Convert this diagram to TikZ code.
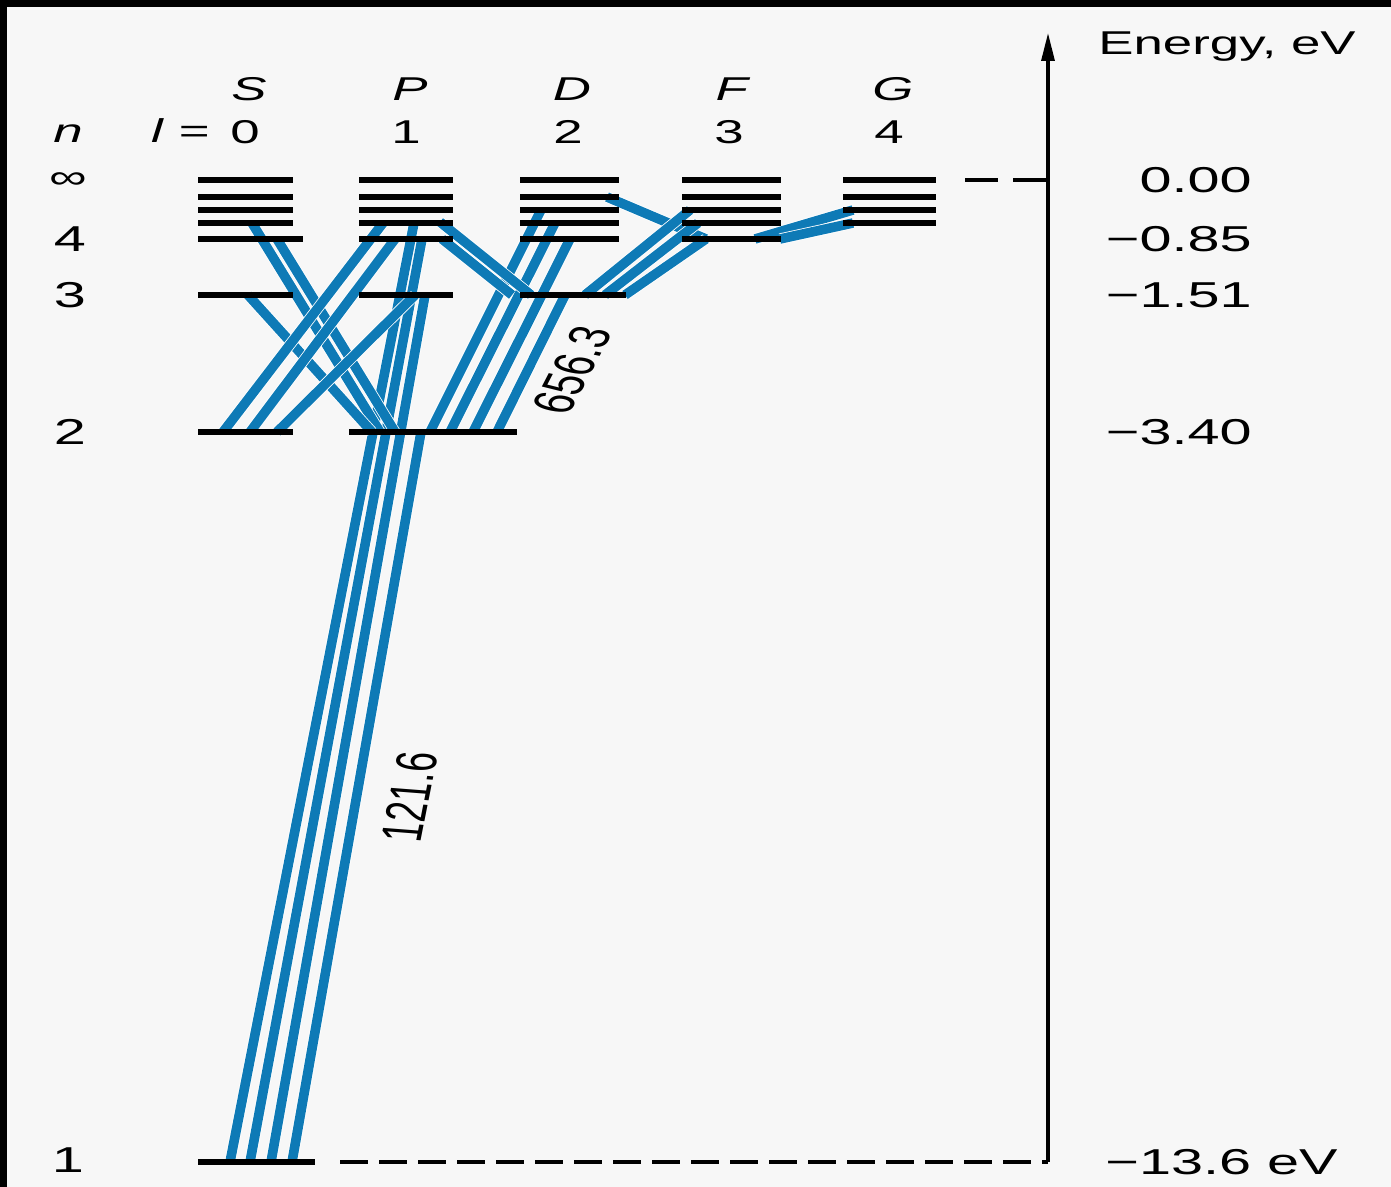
\documentclass[tikz,border=0pt]{standalone}
\usepackage{fontspec}
\setmainfont{Liberation Sans}[FakeStretch=1.6]
\newfontfamily\plainsans{Liberation Sans}
\usetikzlibrary{arrows.meta}
\definecolor{bg}{RGB}{247,247,247}
\definecolor{trblue}{RGB}{14,122,182}
\tikzset{
  lvl/.style={line width=2.9pt, black},
  trans/.style={line width=4.8pt, trblue, preaction={draw=white, line width=5.6pt}},
  bigtxt/.style={font=\fontsize{18}{20}\selectfont, inner sep=0pt},
  smalltxt/.style={font=\fontsize{16.5}{18}\selectfont, inner sep=0pt},
  rottxt/.style={font=\plainsans\fontsize{18}{20}\selectfont, inner sep=0pt},
}
\begin{document}
\begin{tikzpicture}[x=0.5pt,y=-0.5pt]
\useasboundingbox (0,0) rectangle (1391,1187);
\fill[bg] (0,0) rectangle (1391,1187);
\fill[black] (0,0) rectangle (1391,7);
\fill[black] (0,0) rectangle (7,1187);

% transitions
\foreach \xa/\ya/\xb/\yb in {
  230/1162/414/223, 250/1162/422/239, 271/1162/425/295, 292/1162/421/432,
  252/223/380/432, 277/239/395/432, 248/295/372/432,
  383/223/223/432, 395/239/250/432, 415/295/277/432,
  541/210/430/432, 555/223/450/432, 570/239/473/432, 565/295/497/432,
  440/222/531/295, 442/239/512/295,
  607/197/706/239,
  690/210/585/295, 698/223/605/295, 706/239/625/295,
  853/210/755/239, 853/223/780/239}
  \draw[trans] (\xa,\ya) coordinate (ta) -- (\xb,\yb) coordinate (tb);

% levels
\foreach \y in {180,197,210,223}{
  \foreach \a/\b in {198/293,359/453,520/619,682/781,843/936}
    \draw[lvl] (\a,\y) -- (\b,\y);
}
\foreach \a/\b in {198/303,359/453,520/619,682/781}
  \draw[lvl] (\a,239) -- (\b,239);
\foreach \a/\b in {198/293,359/453,520/626}
  \draw[lvl] (\a,295) -- (\b,295);
\foreach \a/\b in {198/293,349/517}
  \draw[lvl] (\a,432) -- (\b,432);
\draw[lvl] (198,1162) -- (315,1162);

% axis and dashed
\coordinate (axbot) at (1048,1162);
\coordinate (axtop) at (1048,33);
\draw[line width=1.6pt, -{Triangle[length=14pt,width=6.5pt]}] (axbot) -- (axtop);
\coordinate (dtop) at (965,180);
\coordinate (dtopend) at (1048,180);
\draw[line width=1.8pt, dash pattern=on 16.5pt off 7.5pt] (dtop) -- (dtopend);
\coordinate (dbot) at (340,1162);
\draw[line width=2.2pt, dash pattern=on 14pt off 5.5pt] (dbot) -- (axbot);

% left labels
\node[smalltxt, anchor=base] (nlab) at (68,143) {\textit{n}};
\node[smalltxt] (ninf) at (68,181) {∞};
\node[bigtxt] (n4) at (70,239) {4};
\node[bigtxt] (n3) at (70,295) {3};
\node[bigtxt] (n2) at (70,432) {2};
\node[bigtxt] (n1) at (68,1160) {1};

% column labels
\node[smalltxt, anchor=base east] (leq) at (210,143) {\textit{l} =};
\foreach \x/\L/\N/\nm in {245/S/0/c0,406/P/1/c1,568/D/2/c2,729/F/3/c3,889/G/4/c4}{
  \node[smalltxt, anchor=base] (\nm L) at (\x+4,101) {\textit{\L}};
  \node[smalltxt, anchor=base] (\nm N) at (\x,144) {\N};
}

% right labels
\node[bigtxt, font=\fontsize{16.5}{18}\selectfont, anchor=base west] (elab) at (1098,55) {Energy, eV};
\node[bigtxt, anchor=east] (e0) at (1252,180) {0.00};
\node[bigtxt, anchor=east] (e4) at (1252,239) {−0.85};
\node[bigtxt, anchor=east] (e3) at (1252,295) {−1.51};
\node[bigtxt, anchor=east] (e2) at (1252,432) {−3.40};
\node[bigtxt, anchor=west] (e1) at (1105,1162) {−13.6 eV};

% rotated wavelength labels
\begin{scope}[shift={(410,797)}, xscale=1.6]
  \node[rottxt, rotate=83, transform shape] (w121) at (0,0) {121.6};
\end{scope}
\begin{scope}[shift={(572,370)}, xscale=1.6]
  \node[rottxt, rotate=72, transform shape] (w656) at (0,0) {656.3};
\end{scope}
\end{tikzpicture}
\end{document}
